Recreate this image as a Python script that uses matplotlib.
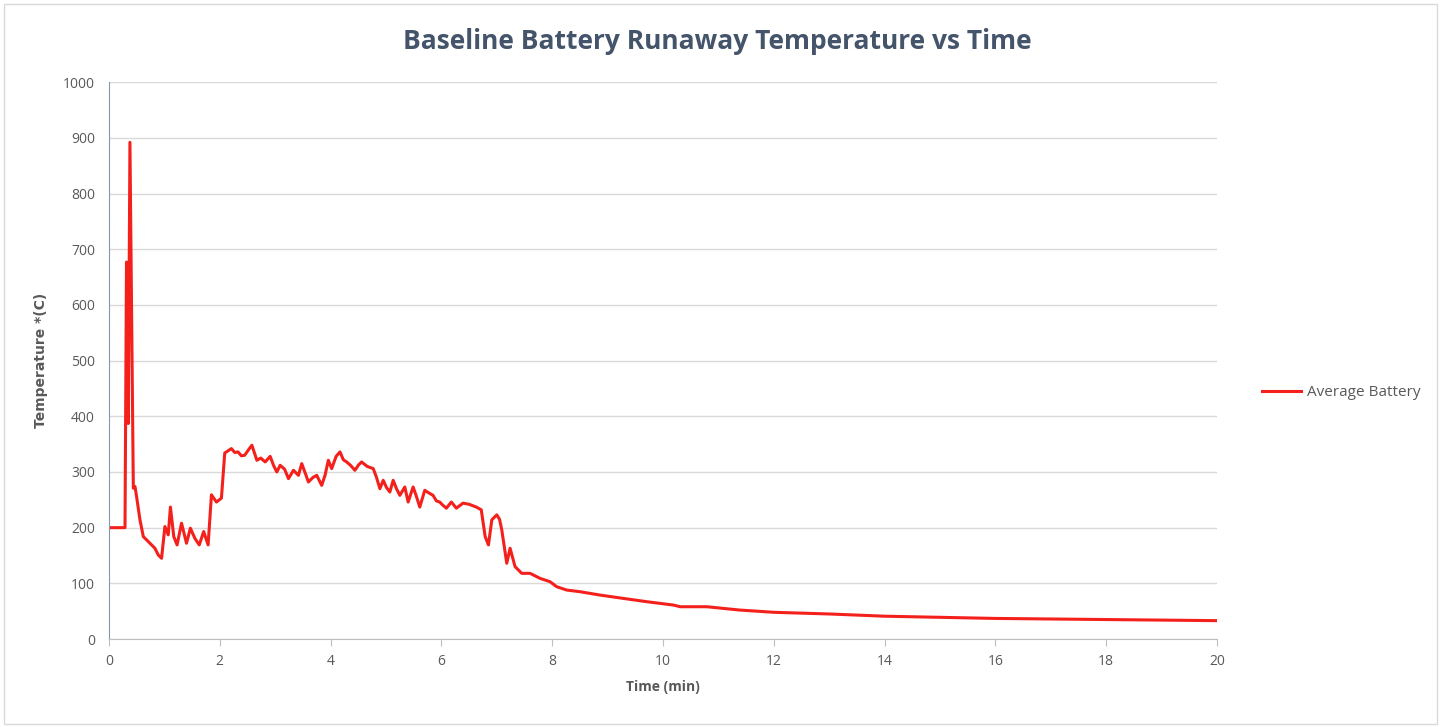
import matplotlib
matplotlib.use("Agg")
import matplotlib.pyplot as plt
import matplotlib.patches as patches

# time (min) and average battery temperature (C)
time_min = [0.0, 0.29, 0.317, 0.349, 0.379, 0.44, 0.47, 0.50, 0.56, 0.62, 0.74, 0.83,
            0.89, 0.95, 1.01, 1.07, 1.11, 1.17, 1.23, 1.31, 1.40, 1.47, 1.55, 1.63,
            1.71, 1.79, 1.85, 1.94, 2.03, 2.09, 2.15, 2.21, 2.27, 2.33, 2.39, 2.45,
            2.52, 2.58, 2.67, 2.74, 2.82, 2.91, 2.97, 3.03, 3.09, 3.17, 3.24, 3.33,
            3.42, 3.48, 3.55, 3.60, 3.68, 3.75, 3.84, 3.90, 3.96, 4.02, 4.10, 4.17,
            4.23, 4.29, 4.36, 4.44, 4.50, 4.56, 4.66, 4.77, 4.83, 4.89, 4.95, 5.01,
            5.07, 5.13, 5.19, 5.25, 5.34, 5.40, 5.49, 5.55, 5.61, 5.70, 5.78, 5.85,
            5.91, 5.97, 6.03, 6.09, 6.18, 6.27, 6.39, 6.50, 6.63, 6.72,
            6.79, 6.85, 6.91, 7.00, 7.05, 7.09, 7.18, 7.24, 7.33, 7.45, 7.60, 7.78,
            7.96, 8.08, 8.26, 8.50, 8.86, 9.28, 9.71, 10.19, 10.31, 10.79, 11.39,
            12.0, 13.0, 14.0, 15.0, 16.0, 17.0, 18.0, 19.0, 20.0]
avg_temp = [200, 200, 677, 387, 892, 271, 274, 255, 214, 184, 172, 163,
            151, 145, 202, 187, 237, 184, 169, 208, 172, 199, 181, 169,
            193, 169, 259, 246, 253, 334, 338, 342, 335, 336, 329, 330,
            340, 348, 321, 325, 318, 328, 312, 300, 312, 305, 288, 303,
            294, 315, 296, 282, 290, 294, 276, 294, 321, 306, 328, 336,
            322, 318, 312, 303, 312, 318, 310, 306, 290, 270, 285, 272,
            264, 285, 270, 258, 273, 246, 273, 256, 237, 267, 262, 258,
            248, 246, 240, 235, 246, 235, 244, 242, 237, 232,
            184, 169, 214, 223, 215, 196, 136, 163, 130, 118, 118, 109,
            103, 94, 88, 85, 79, 73, 67, 61, 58, 58, 52,
            48, 45, 41, 39, 37, 36, 35, 34, 33]

x_ticks = list(range(0, 21, 2))
y_ticks = list(range(0, 1001, 100))

text_grey = "#595959"
title_col = "#44546a"

fig = plt.figure(figsize=(14.41, 7.27), dpi=100)
ax = fig.add_axes([0.0756, 0.121, 0.769, 0.766])

ax.plot(time_min, avg_temp, color="#f4201c", lw=2.2, label="Average Battery")

ax.set_xlim(0, 20)
ax.set_ylim(0, 1000)
ax.set_xticks(x_ticks)
ax.set_yticks(y_ticks)
ax.grid(axis="y", color="#d9d9d9", lw=1)
ax.set_axisbelow(True)

for s in ["top", "right"]:
    ax.spines[s].set_visible(False)
ax.spines["left"].set_color("#8497b0")
ax.spines["bottom"].set_color("#bfbfbf")
ax.tick_params(axis="y", length=0, labelcolor=text_grey, labelsize=10, pad=10)
ax.tick_params(axis="x", length=5, color="#bfbfbf", labelcolor=text_grey,
               labelsize=10, pad=6)
for lbl in ax.get_xticklabels() + ax.get_yticklabels():
    lbl.set_family("Open Sans")

ax.set_xlabel("Time (min)", fontsize=10, fontweight="bold", color=text_grey,
              family="Open Sans", labelpad=8)
ax.set_ylabel("Temperature *(C)", fontsize=10, fontweight="bold", color=text_grey,
              labelpad=11)

fig.text(0.498, 0.943, "Baseline Battery Runaway Temperature vs Time",
         ha="center", va="center", fontsize=19, fontweight="bold",
         color=title_col, family="Open Sans")

leg = fig.legend(loc="center left", bbox_to_anchor=(0.866, 0.46), frameon=False,
                 handlelength=2.6, handletextpad=0.4,
                 prop={"family": "Open Sans", "size": 11})
for t in leg.get_texts():
    t.set_color(text_grey)

# light border around the whole chart
fig.patches.append(patches.Rectangle((0.003, 0.004), 0.994, 0.99, transform=fig.transFigure,
                                     fill=False, edgecolor="#d9d9d9", lw=1))

fig.savefig("out.png", dpi=100, facecolor="white")
